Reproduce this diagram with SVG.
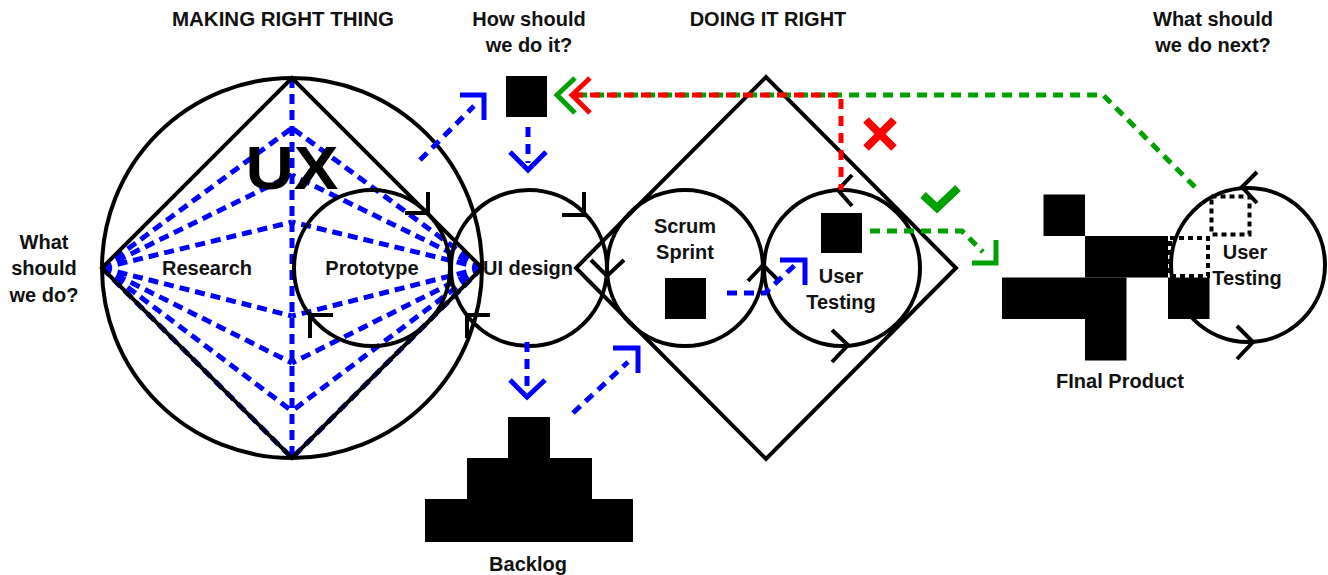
<svg xmlns="http://www.w3.org/2000/svg" width="1328" height="575" viewBox="0 0 1328 575">
<style>
  .ln{fill:none;stroke:#000;stroke-width:4;stroke-linejoin:miter}
  .fan{fill:none;stroke:#0000ff;stroke-width:5;stroke-dasharray:10 6}
  .bd{fill:none;stroke:#0000ff;stroke-width:5;stroke-dasharray:10 7}
  .bh{fill:none;stroke:#0000ff;stroke-width:5}
  .gd{fill:none;stroke:#00a000;stroke-width:5;stroke-dasharray:10 7}
  .gh{fill:none;stroke:#00a000;stroke-width:5}
  .rd{fill:none;stroke:#ff0000;stroke-width:5;stroke-dasharray:10 7}
  .rh{fill:none;stroke:#ff0000;stroke-width:5}
  .blk{fill:#000}
  .dot{fill:none;stroke:#000;stroke-width:4;stroke-dasharray:5 4}
  text{font-family:"Liberation Sans",Arial,sans-serif;font-weight:bold;fill:#111;text-anchor:middle;font-size:20px}
  .ux{font-size:62px;fill:#000}
</style>

<g id="labels">
  <text x="283" y="26" textLength="222" lengthAdjust="spacingAndGlyphs">MAKING RIGHT THING</text>
  <text x="529" y="26">How should</text>
  <text x="529" y="52">we do it?</text>
  <text x="768" y="26">DOING IT RIGHT</text>
  <text x="1213" y="26">What should</text>
  <text x="1213" y="52">we do next?</text>
  <text x="44" y="249">What</text>
  <text x="44" y="275">should</text>
  <text x="44" y="302">we do?</text>
</g>

<g id="ux-research">
  <path class="fan" d="M102,268 L292,128 M102,268 L292,175 M102,268 L292,222 M102,268 L292,316 M102,268 L292,363 M102,268 L292,411 M102,268 L292,458
                        M482,268 L292,128 M482,268 L292,175 M482,268 L292,222 M482,268 L292,316 M482,268 L292,363 M482,268 L292,411 M482,268 L292,458
                        M292,78 V458"/>
  <circle class="ln" cx="292" cy="268" r="190"/>
  <polygon class="ln" points="292,78 102,268 292,458 482,268"/>
  <text class="ux" x="292" y="189" textLength="93" lengthAdjust="spacingAndGlyphs">UX</text>
  <text x="207" y="275">Research</text>
</g>

<g id="prototype">
  <circle class="ln" cx="372" cy="268" r="78"/>
  <path class="ln" d="M428,192 V213 H405 M310,338 V315 H333"/>
  <text x="372" y="275">Prototype</text>
</g>

<g id="ui-design">
  <circle class="ln" cx="529" cy="268" r="78"/>
  <path class="ln" d="M584,192 V215 H562 M467,338 V315 H490"/>
  <text x="528" y="275">UI design</text>
</g>

<g id="how-square">
  <rect class="blk" x="506" y="76" width="41" height="41"/>
</g>

<g id="doing-diamond">
  <polygon class="ln" points="766,77 576,268 766,459 956,268"/>
</g>

<g id="scrum-sprint">
  <circle class="ln" cx="685" cy="268" r="78"/>
  <path class="ln" d="M591,260 L607,276 L624,260 M748,281 L763,265 L779,281"/>
  <text x="685" y="233">Scrum</text>
  <text x="685" y="259">Sprint</text>
  <rect class="blk" x="665" y="278" width="41" height="41"/>
</g>

<g id="user-testing">
  <circle class="ln" cx="842" cy="268" r="78"/>
  <path class="ln" d="M852,175 L838,190 L852,206 M832,330 L848,345 L832,362"/>
  <rect class="blk" x="821" y="213" width="41" height="40"/>
  <text x="841" y="283">User</text>
  <text x="841" y="309">Testing</text>
</g>

<g id="backlog">
  <rect class="blk" x="508" y="417" width="42" height="42"/>
  <rect class="blk" x="467" y="458" width="125" height="42"/>
  <rect class="blk" x="425" y="499" width="208" height="43"/>
  <text x="528" y="571">Backlog</text>
</g>

<g id="final-product">
  <rect class="blk" x="1043.5" y="194.5" width="41.5" height="41.5"/>
  <rect class="blk" x="1085" y="236" width="83" height="41.5"/>
  <rect class="blk" x="1002" y="277.5" width="124.5" height="41.5"/>
  <rect class="blk" x="1085" y="319" width="41.5" height="41.5"/>
  <text x="1120" y="388">FInal Product</text>
</g>

<g id="user-testing-final">
  <circle class="ln" cx="1248" cy="265" r="77"/>
  <path class="ln" d="M1257,172 L1242,187 L1257,203 M1237,326 L1253,342 L1237,359"/>
  <rect class="blk" x="1168" y="277.5" width="41.5" height="41.5"/>
  <rect class="dot" x="1170" y="238" width="38" height="38"/>
  <rect class="dot" x="1211.5" y="196.5" width="38" height="38"/>
  <text x="1245" y="259">User</text>
  <text x="1247" y="285">Testing</text>
</g>

<g id="connectors">
  <path class="bd" d="M420,160 L474,106" stroke-dasharray="3 8 10 7 10 7 10 7 10 7 10 7"/>
  <path class="bh" d="M460,95 H484 V120"/>
  <path class="bd" d="M528,127 V163"/>
  <path class="bh" d="M510,152 L528,170 L546,152"/>
  <path class="bd" d="M527,342 V390"/>
  <path class="bh" d="M510,380 L527,397 L545,380"/>
  <path class="bd" d="M573,413 L628,362" stroke-dasharray="3 8 10 7 10 7 10 7 10 7 10 7"/>
  <path class="bh" d="M613,348 H638 V373"/>
  <path class="bd" d="M727,293 H765 L795,265" stroke-dasharray="3 8 10 7 10 7 10 7 10 7 10 7"/>
  <path class="bh" d="M780,260 H805 V285"/>
  <path class="gd" d="M870,231 H962 L983,252" stroke-dasharray="3 8 10 7 10 7 10 7 10 7 10 7 10 7 10 7"/>
  <path class="gh" d="M972,263 H996 V240"/>
  <path class="gd" d="M1195,187 L1103,95 H575" stroke-dasharray="3 8 10 7 10 7 10 7 10 7 10 7 10 7 10 7 10 7 10 7 10 7 10 7 10 7 10 7 10 7 10 7 10 7 10 7 10 7 10 7 10 7 10 7 10 7 10 7 10 7 10 7 10 7 10 7 10 7 10 7 10 7 10 7 10 7 10 7 10 7 10 7 10 7 10 7 10 7 10 7"/>
  <path class="gh" d="M575,78 L557,95 L575,113"/>
  <path class="rd" d="M841,190 V95 H572" stroke-dashoffset="4"/>
  <path class="rh" d="M590,78 L572,95 L590,113"/>
  <path d="M866,120 L894,148 M894,120 L866,148" fill="none" stroke="#ff0000" stroke-width="8"/>
  <path d="M923,195 L937,208 L958,188" fill="none" stroke="#00a000" stroke-width="8"/>
</g>
</svg>
